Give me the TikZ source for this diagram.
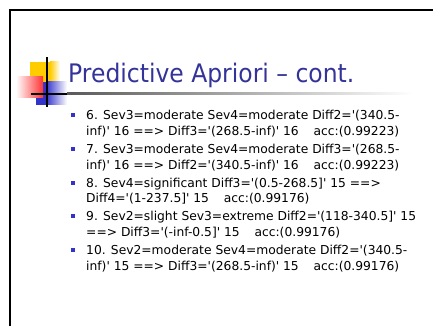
\documentclass[tikz,border=0pt]{standalone}
\usepackage{fontspec}
\setmainfont{DejaVu Sans}
\newfontfamily\titlefont[FakeStretch=0.92]{DejaVu Sans}
\newcommand\sq{\textquotesingle}
\definecolor{titleblue}{HTML}{333399}
\definecolor{bulletblue}{HTML}{3333CC}
\definecolor{logoyellow}{HTML}{FFCC00}
\definecolor{logored}{HTML}{FF3333}
\begin{document}
\begin{tikzpicture}[x=1pt,y=-1pt,
  line/.style={anchor=base west,inner sep=0pt,font=\fontsize{12.3}{16}\selectfont},
  bul/.style={fill=bulletblue,draw=none,minimum size=4pt,inner sep=0pt}]
\useasboundingbox (0,0) rectangle (433,326);
% frame
\draw[line width=2.2pt] (433,10) -- (10,10) -- (10,326);
% logo
\fill[logoyellow] (30,62) rectangle (50,82);
\shade[left color=logoyellow,right color=white] (50,62) rectangle (60,82);
\fill[bulletblue] (36,82) rectangle (46,105);
\shade[left color=bulletblue,right color=white] (46,82) rectangle (67,105);
\shade[left color=white,right color=logored] (16,77) rectangle (43,98);
\draw[line width=1.6pt] (47,57) -- (47,107);
\draw[line width=1.6pt] (31,94) -- (67,94);
\shade[left color=black!65,right color=white] (67,93) rectangle (413,95);
% title
\node[anchor=base west,inner sep=0pt,text=titleblue,font=\titlefont\fontsize{25.5}{30}\selectfont] (title) at (68,82.5) {Predictive Apriori – cont.};
% bullets and text
\foreach \i/\y in {6/119.3,7/153.3,8/187.3,9/220.7,10/254.3}{
  \node[bul] (b\i) at (72.5,\y-4.3) {};
}
\node[line] (t6a) at (86,119.3) {6. Sev3=moderate Sev4=moderate Diff2=\sq(340.5-};
\node[line] (t6b) at (86,135) {inf)\sq{} 16 ==> Diff3=\sq(268.5-inf)\sq{} 16\hspace{1.2em}acc:(0.99223)};
\node[line] (t7a) at (86,153.3) {7. Sev3=moderate Sev4=moderate Diff3=\sq(268.5-};
\node[line] (t7b) at (86,169) {inf)\sq{} 16 ==> Diff2=\sq(340.5-inf)\sq{} 16\hspace{1.2em}acc:(0.99223)};
\node[line] (t8a) at (86,187.3) {8. Sev4=significant Diff3=\sq(0.5-268.5]\sq{} 15 ==>};
\node[line] (t8b) at (86,202.7) {Diff4=\sq(1-237.5]\sq{} 15\hspace{1.2em}acc:(0.99176)};
\node[line] (t9a) at (86,220.7) {9. Sev2=slight Sev3=extreme Diff2=\sq(118-340.5]\sq{} 15};
\node[line] (t9b) at (86,236) {==> Diff3=\sq(-inf-0.5]\sq{} 15\hspace{1.2em}acc:(0.99176)};
\node[line] (t10a) at (86,254.3) {10. Sev2=moderate Sev4=moderate Diff2=\sq(340.5-};
\node[line] (t10b) at (86,270) {inf)\sq{} 15 ==> Diff3=\sq(268.5-inf)\sq{} 15\hspace{1.2em}acc:(0.99176)};
\end{tikzpicture}
\end{document}
